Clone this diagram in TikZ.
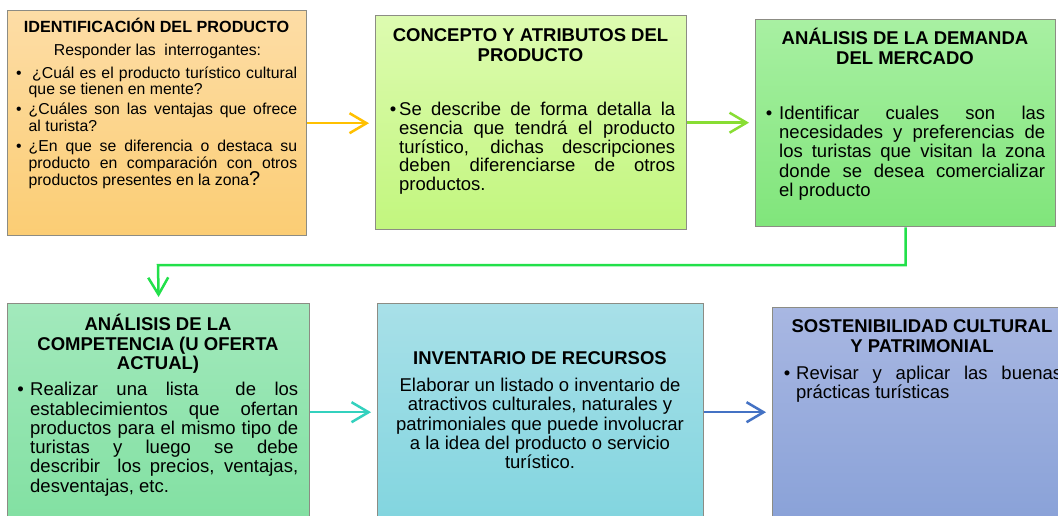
\documentclass[tikz,border=0pt]{standalone}
\usepackage{fontspec}
\setmainfont{Liberation Sans}
\usetikzlibrary{arrows.meta}
\definecolor{boxgray}{HTML}{8C8C84}
\definecolor{fAt}{HTML}{FDDDA6}\definecolor{fAb}{HTML}{FBCD74}
\definecolor{fBt}{HTML}{DDFBB0}\definecolor{fBb}{HTML}{C2F67E}
\definecolor{fCt}{HTML}{A8F0A2}\definecolor{fCb}{HTML}{80E57B}
\definecolor{fDt}{HTML}{A2E9BC}\definecolor{fDb}{HTML}{82E0A2}
\definecolor{fEt}{HTML}{A8E0E8}\definecolor{fEb}{HTML}{82D5DF}
\definecolor{fFt}{HTML}{A8B7E2}\definecolor{fFb}{HTML}{8AA2D8}
\definecolor{aA}{HTML}{FFC000}
\definecolor{aB}{HTML}{88DD33}
\definecolor{aC}{HTML}{22E04A}
\definecolor{aD}{HTML}{33D1BE}
\definecolor{aE}{HTML}{4472C4}
\newcommand{\jl}[2]{\makebox[#1pt][s]{#2}}
\begin{document}
\begin{tikzpicture}[x=1pt,y=-1pt,
  box/.style={draw=boxgray, line width=1.4pt, rectangle, inner sep=0pt, anchor=north west},
  ttl/.style={font=\bfseries\fontsize{18.5}{19}\selectfont, inner sep=0pt, anchor=base},
  ttlA/.style={font=\bfseries\fontsize{16.2}{17}\selectfont, inner sep=0pt, anchor=base},
  txt/.style={font=\fontsize{18.5}{19}\selectfont, inner sep=0pt, anchor=base west},
  ctxt/.style={font=\fontsize{18.5}{19}\selectfont, inner sep=0pt, anchor=base},
  stxt/.style={font=\fontsize{15.8}{17}\selectfont, inner sep=0pt, anchor=base west},
  sctxt/.style={font=\fontsize{15.8}{17}\selectfont, inner sep=0pt, anchor=base},
  blt/.style={font=\fontsize{18.5}{19}\selectfont, inner sep=0pt, anchor=base},
  sblt/.style={font=\fontsize{15.8}{17}\selectfont, inner sep=0pt, anchor=base},
  conn/.style={line width=2.5pt, -{Straight Barb[length=17pt,width=20pt]}, shorten >=6pt}]
\fill[white] (0,0) rectangle (1058,515);
\useasboundingbox (0,0) rectangle (1058,515);

% boxes
\node[box, top color=fAt, bottom color=fAb, minimum width=299pt, minimum height=225pt] (b1) at (7,10) {};
\node[box, top color=fBt, bottom color=fBb, minimum width=311pt, minimum height=214pt] (b2) at (375,15) {};
\node[box, top color=fCt, bottom color=fCb, minimum width=300pt, minimum height=207pt] (b3) at (755,19) {};
\node[box, top color=fDt, bottom color=fDb, minimum width=302pt, minimum height=217pt] (b4) at (7,303) {};
\node[box, top color=fEt, bottom color=fEb, minimum width=326pt, minimum height=217pt] (b5) at (377,303) {};
\node[box, top color=fFt, bottom color=fFb, minimum width=300pt, minimum height=210pt] (b6) at (772,307) {};

% box 1 text
\node[ttlA] (t1) at (156.5,32.3) {IDENTIFICACIÓN DEL PRODUCTO};
\node[sctxt] (t1s) at (157.5,55) {Responder las\ \ interrogantes:};
\node[sblt] (t1b1) at (19,78) {•};
\node[stxt] (t1a) at (32,78) {\jl{265}{¿Cuál es el producto turístico cultural}};
\node[stxt] (t1b) at (28.5,94.5) {que se tienen en mente?};
\node[sblt] (t1b2) at (19,114.5) {•};
\node[stxt] (t1c) at (28.5,114.5) {\jl{268.5}{¿Cuáles son las ventajas que ofrece}};
\node[stxt] (t1d) at (28.5,131) {al turista?};
\node[sblt] (t1b3) at (19,151) {•};
\node[stxt] (t1e) at (28.5,151) {\jl{268.5}{¿En que se diferencia o destaca su}};
\node[stxt] (t1f) at (28.5,168) {\jl{268.5}{producto en comparación con otros}};
\node[stxt] (t1g) at (28.5,185) {productos presentes en la zona{\fontsize{20}{20}\selectfont ?}};

% box 2 text
\node[ttl] (t2) at (530.5,41.7) {CONCEPTO Y ATRIBUTOS DEL};
\node[ttl] (t2x) at (530.5,61) {PRODUCTO};
\node[blt] (t2b) at (393,115.7) {•};
\node[txt] (t2a) at (399,115.7) {\jl{276}{Se describe de forma detalla la}};
\node[txt] (t2c) at (399,134.4) {\jl{276}{esencia que tendrá el producto}};
\node[txt] (t2d) at (399,153.1) {\jl{276}{turístico, dichas descripciones}};
\node[txt] (t2e) at (399,171.8) {\jl{276}{deben diferenciarse de otros}};
\node[txt] (t2f) at (399,190.5) {productos.};

% box 3 text
\node[ttl] (t3) at (905,44.3) {ANÁLISIS DE LA DEMANDA};
\node[ttl] (t3x) at (905,64.3) {DEL MERCADO};
\node[blt] (t3b) at (769,119) {•};
\node[txt] (t3a) at (779,119) {\jl{266}{Identificar cuales son las}};
\node[txt] (t3c) at (779,138.4) {\jl{266}{necesidades y preferencias de}};
\node[txt] (t3d) at (779,157.8) {\jl{266}{los turistas que visitan la zona}};
\node[txt] (t3e) at (779,177.2) {\jl{266}{donde se desea comercializar}};
\node[txt] (t3f) at (779,196.6) {el producto};

% box 4 text
\node[ttl] (t4) at (158,330) {ANÁLISIS DE LA};
\node[ttl] (t4x) at (158,350) {COMPETENCIA (U OFERTA};
\node[ttl] (t4y) at (158,369.3) {ACTUAL)};
\node[blt] (t4b) at (20.5,395.7) {•};
\node[txt] (t4a) at (30,395.7) {\jl{268}{Realizar una lista\ \ de los}};
\node[txt] (t4c) at (30,415) {\jl{268}{establecimientos que ofertan}};
\node[txt] (t4d) at (30,434.3) {\jl{268}{productos para el mismo tipo de}};
\node[txt] (t4e) at (30,453.6) {\jl{268}{turistas y luego se debe}};
\node[txt] (t4f) at (30,472.9) {\jl{268}{describir\ \ los precios, ventajas,}};
\node[txt] (t4g) at (30,492.2) {desventajas, etc.};

% box 5 text
\node[ttl] (t5) at (540,364.3) {INVENTARIO DE RECURSOS};
\node[ctxt] (t5a) at (540,391.7) {Elaborar un listado o inventario de};
\node[ctxt] (t5b) at (540,410.9) {atractivos culturales, naturales y};
\node[ctxt] (t5c) at (540,430.1) {patrimoniales que puede involucrar};
\node[ctxt] (t5d) at (540,449.3) {a la idea del producto o servicio};
\node[ctxt] (t5e) at (540,468.5) {turístico.};

% box 6 text
\node[ttl] (t6) at (922,332.7) {SOSTENIBILIDAD CULTURAL};
\node[ttl] (t6x) at (922,352.7) {Y PATRIMONIAL};
\node[blt] (t6b) at (787,379) {•};
\node[txt] (t6a) at (796,379) {\jl{266}{Revisar y aplicar las buenas}};
\node[txt] (t6c) at (796,398.3) {prácticas turísticas};

% connectors
\coordinate (turn) at (158,265);
\draw[conn, aA] (b1.east) -- (b1.east -| b2.west);
\draw[conn, aB] (b2.east) -- (b2.east -| b3.west);
\draw[conn, aC] (b3.south) -- (b3.south |- turn) -- (turn) -- (b4.north);
\draw[conn, aD] (b4.east) -- (b4.east -| b5.west);
\draw[conn, aE] (b5.east) -- (b5.east -| b6.west);
\end{tikzpicture}
\end{document}
